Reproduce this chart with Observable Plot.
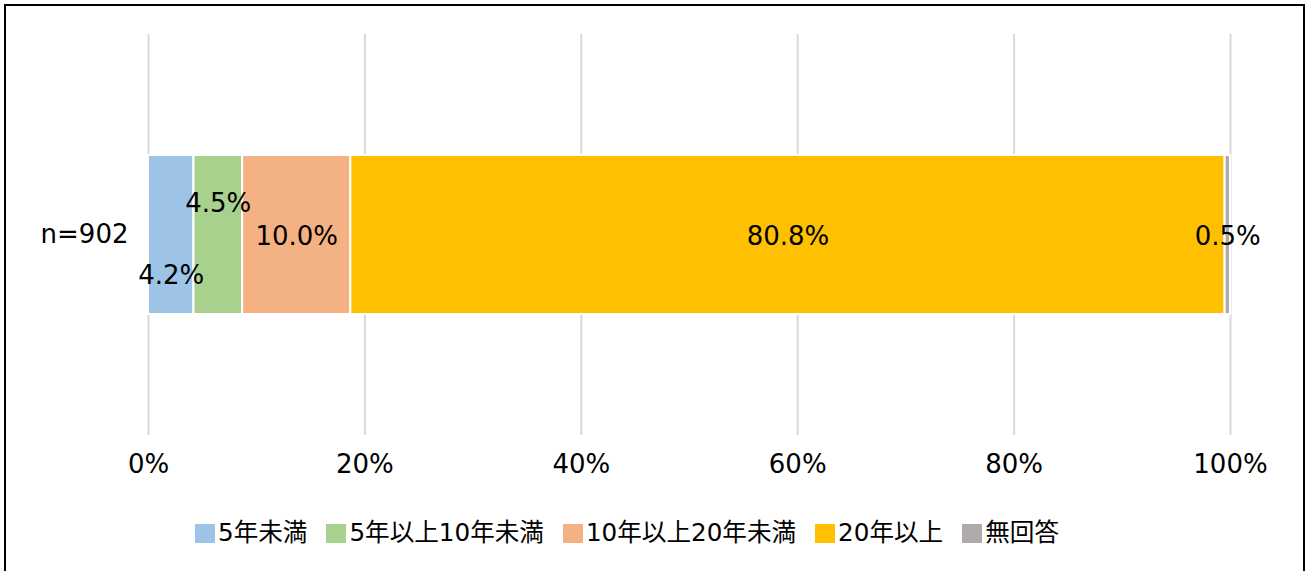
<!DOCTYPE html>
<html><head><meta charset="utf-8">
<script src="https://cdn.jsdelivr.net/npm/d3@7"></script>
<script src="https://cdn.jsdelivr.net/npm/@observablehq/plot@0.6"></script>
<style>
body{margin:0;background:#fff;}
#wrap{position:relative;width:1307px;height:571px;overflow:hidden;font-family:"DejaVu Sans","Noto Sans CJK JP",sans-serif;color:#000;}
#frame{position:absolute;left:4px;top:4px;width:1301px;height:640px;border:2px solid #000;box-sizing:border-box;}
#chart{position:absolute;left:0;top:0;}
#legend{position:absolute;left:195px;top:520px;display:flex;align-items:center;font-size:24.6px;line-height:26px;gap:19px;white-space:nowrap;}
#legend .item{display:flex;align-items:center;gap:3px;}
#legend .sw{width:20px;height:19px;display:inline-block;}
</style></head>
<body>
<div id="wrap"><div id="frame"></div><div id="chart"></div><div id="legend"></div></div>
<script>
const categories = ["5年未満","5年以上10年未満","10年以上20年未満","20年以上","無回答"];
const values = [4.2, 4.5, 10.0, 80.8, 0.5];
const colors = ["#9DC3E6","#A9D18E","#F4B183","#FFC000","#AFABAB"];
const group = "n=902";
const xTicks = [0, 20, 40, 60, 80, 100];

const ends = Array.from(d3.cumsum(values));
const data = categories.map((c, i) => ({group, category: c, value: values[i], mid: ends[i] - values[i] / 2}));
const fmt = d => d.value.toFixed(1) + "%";
const down = new Set([categories[0]]);
const up = new Set([categories[1]]);

const labels = (filter, dy) => Plot.text(data, {
  x: "mid", y: "group", text: fmt, filter, dy, fontSize: 26, fill: "#000"
});

const chart = Plot.plot({
  width: 1307,
  height: 500,
  marginLeft: 148,
  marginRight: 77,
  marginTop: 34,
  marginBottom: 65,
  style: {fontFamily: '"DejaVu Sans","Noto Sans CJK JP",sans-serif', color: "#000", background: "transparent"},
  x: {domain: [0, 100], label: null},
  y: {domain: [group], padding: 0.432, label: null},
  color: {domain: categories, range: colors},
  marks: [
    Plot.gridX(xTicks, {stroke: "#d9d9d9", strokeOpacity: 1, strokeWidth: 2}),
    Plot.barX(data, {x: "value", y: "group", fill: "category", stroke: "white", strokeWidth: 2}),
    Plot.axisX(xTicks, {tickFormat: d => d + "%", tickSize: 0, tickPadding: 19, fontSize: 26, label: null}),
    Plot.axisY({tickSize: 0, tickPadding: 20, fontSize: 26, label: null}),
    labels(d => !down.has(d.category) && !up.has(d.category), 2),
    labels(d => down.has(d.category), 41),
    labels(d => up.has(d.category), -31)
  ]
});
document.getElementById("chart").appendChild(chart);

const legend = document.getElementById("legend");
categories.forEach((c, i) => {
  const item = document.createElement("div");
  item.className = "item";
  const sw = document.createElement("span");
  sw.className = "sw";
  sw.style.background = colors[i];
  const t = document.createElement("span");
  t.textContent = c;
  item.appendChild(sw); item.appendChild(t);
  legend.appendChild(item);
});
</script>
</body></html>
